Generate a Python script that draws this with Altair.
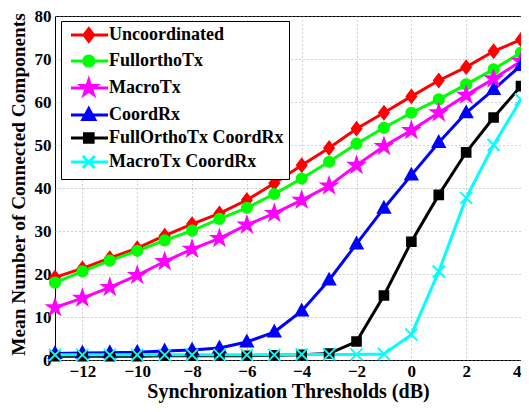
import math
import altair as alt
import pandas as pd

x_vals = list(range(-13, 5))
series_names = ["Uncoordinated", "FullorthoTx", "MacroTx", "CoordRx",
                "FullOrthoTx CoordRx", "MacroTx CoordRx"]
uncoordinated = [19.2, 21.3, 23.7, 26.0, 28.9, 31.6, 34.1, 37.2, 41.1, 45.3,
                 49.3, 53.8, 57.5, 61.3, 65.0, 68.1, 71.8, 74.5]
fullortho_tx = [18.0, 20.6, 23.1, 25.4, 27.8, 30.1, 32.8, 35.4, 38.6, 42.2,
                46.1, 50.3, 54.0, 57.5, 60.6, 64.1, 67.6, 71.5]
macro_tx = [12.2, 14.4, 16.9, 19.7, 22.9, 25.8, 28.3, 31.4, 34.1, 37.2,
            40.5, 45.3, 49.7, 53.4, 57.5, 61.6, 65.4, 69.5]
coord_rx = [1.5, 1.6, 1.7, 1.8, 2.1, 2.3, 2.8, 4.2, 6.5, 11.4,
            18.6, 27.0, 35.3, 43.0, 50.6, 57.5, 62.9, 68.5]
fullortho_coord_rx = [0.9, 0.9, 0.9, 0.9, 1.0, 1.0, 1.0, 1.0, 1.1, 1.2,
                      1.5, 4.3, 15.0, 27.5, 38.4, 48.3, 56.4, 63.7]
macro_coord_rx = [1.2, 1.2, 1.2, 1.2, 1.2, 1.2, 1.2, 1.2, 1.2, 1.3,
                  1.3, 1.3, 1.4, 5.9, 20.6, 37.7, 50.0, 60.6]
colors = ["#ff0000", "#00ff00", "#ff00ff", "#0000ff", "#000000", "#00ffff"]

all_series = [uncoordinated, fullortho_tx, macro_tx, coord_rx,
              fullortho_coord_rx, macro_coord_rx]
rows = []
for name, vals in zip(series_names, all_series):
    for xv, yv in zip(x_vals, vals):
        rows.append({"x": xv, "y": yv, "series": name})
df = pd.DataFrame(rows)


# ---- marker shapes (unit coordinates, scaled by sqrt(size)/2) ----
def f(v):
    return f"{v:.3f}"


def diamond(cx):
    return f"M{f(cx)},-1.05L{f(cx+0.8)},0L{f(cx)},1.05L{f(cx-0.8)},0Z"


def circle(cx, r=0.85):
    return (f"M{f(cx-r)},0A{r},{r} 0 1,1 {f(cx+r)},0"
            f"A{r},{r} 0 1,1 {f(cx-r)},0Z")


def star(cx, R=1.3):
    ri = R * 0.382
    pts = []
    for k in range(10):
        ang = math.radians(-90 + 36 * k)
        rr = R if k % 2 == 0 else ri
        pts.append((cx + rr * math.cos(ang), rr * math.sin(ang)))
    return "M" + "L".join(f"{f(a)},{f(b)}" for a, b in pts) + "Z"


def triangle(cx):
    return f"M{f(cx)},-1.05L{f(cx+1)},0.75L{f(cx-1)},0.75Z"


def square(cx, s=0.72):
    return (f"M{f(cx-s)},{f(-s)}L{f(cx+s)},{f(-s)}L{f(cx+s)},{f(s)}"
            f"L{f(cx-s)},{f(s)}Z")


def xcross(cx, s=1.0):
    return (f"M{f(cx-s)},{f(-s)}L{f(cx+s)},{f(s)}"
            f"M{f(cx-s)},{f(s)}L{f(cx+s)},{f(-s)}")


makers = [diamond, circle, star, triangle, square, xcross]
plot_shapes = [m(0) for m in makers]
LCX = 2.3
legend_line = "M-0.67,0L5.5,0"
legend_shapes = [legend_line + m(LCX) for m in makers]

FONT = "Liberation Serif"

x_enc = alt.X("x:Q", scale=alt.Scale(domain=[-13, 4], nice=False),
              axis=alt.Axis(values=list(range(-12, 5, 2)),
                            title="Synchronization Thresholds (dB)"))
y_enc = alt.Y("y:Q", scale=alt.Scale(domain=[0, 80], nice=False),
              axis=alt.Axis(values=list(range(0, 81, 10)),
                            title="Mean Number of Connected Components",
                            titleY=168))

color_scale = alt.Scale(domain=series_names, range=colors)

lines = alt.Chart(df).mark_line(strokeWidth=3).encode(
    x=x_enc, y=y_enc,
    stroke=alt.Stroke("series:N", scale=color_scale, legend=None),
    detail="series:N",
)

points = alt.Chart(df).mark_point(size=144, strokeWidth=2, opacity=1,
                                  fillOpacity=1).encode(
    x=x_enc, y=y_enc,
    fill=alt.Fill("series:N", scale=color_scale, legend=None),
    stroke=alt.Stroke("series:N", scale=color_scale, legend=None),
    shape=alt.Shape("series:N",
                    scale=alt.Scale(domain=series_names, range=plot_shapes),
                    legend=None),
)

leg = alt.Legend(title=None, orient="none", legendX=6, legendY=5,
                 symbolSize=144, symbolStrokeWidth=3, symbolOpacity=1,
                 labelFont=FONT, labelFontWeight="bold", labelFontSize=18,
                 labelColor="black", labelOffset=25, padding=5, rowPadding=1,
                 strokeColor="black", fillColor="white", labelLimit=400)

legend_layer = alt.Chart(df).transform_calculate(
    leg="datum.series"
).mark_point(size=144, opacity=0).encode(
    x=x_enc, y=y_enc,
    fill=alt.Fill("leg:N", scale=color_scale, legend=leg),
    stroke=alt.Stroke("leg:N", scale=color_scale, legend=leg),
    shape=alt.Shape("leg:N",
                    scale=alt.Scale(domain=series_names, range=legend_shapes),
                    legend=leg),
)

chart = alt.layer(lines, points, legend_layer).resolve_scale(
    fill="independent", stroke="independent", shape="independent"
).properties(
    width=466, height=344,
    autosize=alt.AutoSizeParams(type="none"),
    padding={"left": 47, "top": 8, "right": 0, "bottom": 44},
).configure_view(
    stroke="black", strokeWidth=1
).configure_axis(
    labelFont=FONT, labelFontWeight="bold", labelFontSize=17,
    labelColor="black", titleFont=FONT, titleFontWeight="bold",
    titleFontSize=20, titleColor="black", ticks=False, tickSize=0,
    domain=False, grid=True, gridColor="#8a8a8a", gridDash=[1, 3],
    gridWidth=0.8, labelPadding=4,
).configure_axisX(
    labelPadding=3, titlePadding=2
).configure_axisY(
    titlePadding=6, titleFontSize=19.3
)

chart.save("out.html", embed_options={"renderer": "svg", "actions": False})
